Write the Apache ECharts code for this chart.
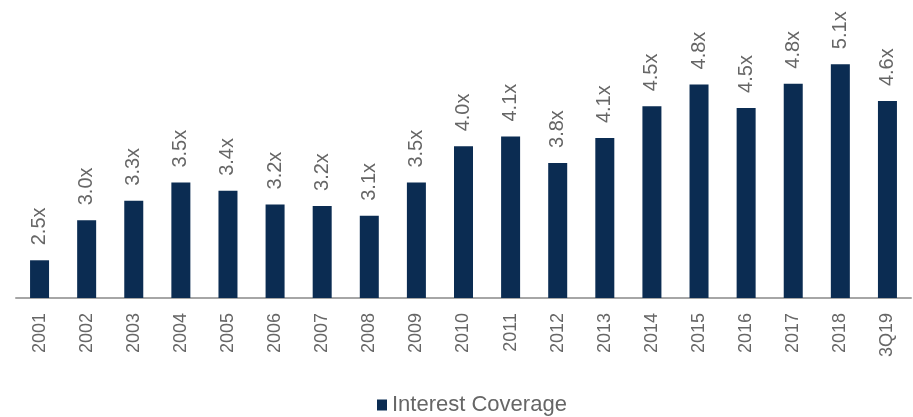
<!DOCTYPE html>
<html>
<head>
<meta charset="utf-8">
<script src="https://cdn.jsdelivr.net/npm/echarts@6/dist/echarts.min.js"></script>
<style>
html,body{margin:0;padding:0;background:#fff;}
#chart{width:913px;height:417px;}
</style>
</head>
<body>
<div id="chart"></div>
<script>
const categories = ['2001','2002','2003','2004','2005','2006','2007','2008','2009','2010','2011','2012','2013','2014','2015','2016','2017','2018','3Q19'];
const interestCoverage = [2.50, 3.03, 3.29, 3.53, 3.42, 3.24, 3.22, 3.09, 3.53, 4.01, 4.14, 3.79, 4.12, 4.54, 4.83, 4.52, 4.84, 5.10, 4.61];
const seriesName = 'Interest Coverage';

const chart = echarts.init(document.getElementById('chart'));
const font = 'Liberation Sans, Arial, sans-serif';
chart.setOption({
  animation: false,
  grid: { left: 16, right: 2, top: 0, bottom: 119, containLabel: false },
  xAxis: {
    type: 'category',
    data: categories,
    axisLine: { show: true, lineStyle: { color: '#a6a6a6', width: 2 } },
    axisTick: { show: false },
    axisLabel: { rotate: 90, margin: 15, color: '#666666', fontSize: 18, fontFamily: font, interval: 0 }
  },
  yAxis: {
    type: 'value', min: 2, max: 5.95, show: false,
    splitLine: { show: false }
  },
  legend: {
    data: [seriesName],
    top: 394,
    left: 377,
    padding: 0,
    icon: 'rect',
    itemWidth: 10,
    itemHeight: 11,
    textStyle: { color: '#666666', fontSize: 22, fontFamily: font }
  },
  series: [{
    name: seriesName,
    type: 'bar',
    data: interestCoverage,
    barWidth: 19,
    itemStyle: { color: '#0b2c52' },
    label: {
      show: true,
      position: 'top',
      rotate: 90,
      align: 'left',
      verticalAlign: 'middle',
      distance: 15,
      color: '#666666',
      fontSize: 20,
      fontFamily: font,
      formatter: p => p.value.toFixed(1) + 'x'
    }
  }]
});
</script>
</body>
</html>
